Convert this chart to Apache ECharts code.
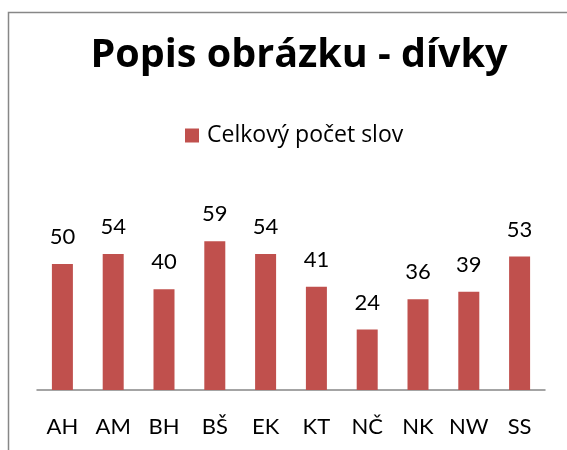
<!DOCTYPE html>
<html>
<head>
<meta charset="utf-8">
<script src="https://cdn.jsdelivr.net/npm/echarts@6/dist/echarts.min.js"></script>
<style>
  html, body { margin: 0; padding: 0; background: #fff; }
  #chart { width: 567px; height: 450px; }
</style>
</head>
<body>
<div id="chart"></div>
<script>
// data
var categories = ['AH', 'AM', 'BH', 'BŠ', 'EK', 'KT', 'NČ', 'NK', 'NW', 'SS'];
var wordCounts = [50, 54, 40, 59, 54, 41, 24, 36, 39, 53];
var seriesName = 'Celkový počet slov';
var chartTitle = 'Popis obrázku - dívky';

var font = 'Lato';
var chart = echarts.init(document.getElementById('chart'));

var option = {
	animation: false,
	backgroundColor: '#fff',
	title: {
		text: chartTitle,
		left: 294,
		textAlign: 'center',
		top: 31,
		textStyle: {
			fontFamily: 'Open Sans',
			fontSize: 39.5,
			fontWeight: 'bold',
			color: '#000'
		}
	},
	legend: {
		data: [seriesName],
		left: 180,
		top: 119,
		itemWidth: 14,
		itemHeight: 14,
		icon: 'rect',
		textStyle: {
			fontFamily: 'Open Sans',
			fontSize: 23,
			color: '#000',
			padding: [0, 0, 0, 3]
		}
	},
	// chart frame, like the excel border
	graphic: [{
		type: 'rect',
		shape: { x: 8.5, y: 12.5, width: 700, height: 600 },
		style: { fill: null, stroke: '#878787', lineWidth: 1.5 },
		silent: true
	}],
	grid: {
		left: 37,
		right: 22,
		top: 213.6,
		bottom: 60
	},
	xAxis: {
		type: 'category',
		data: categories,
		axisLine: { lineStyle: { color: '#878787', width: 1.5 } },
		axisTick: { show: false },
		axisLabel: {
			fontFamily: font,
			fontSize: 22,
			color: '#000',
			margin: 26,
			interval: 0
		}
	},
	yAxis: {
		type: 'value',
		min: 0,
		max: 70,
		show: false
	},
	series: [{
		name: seriesName,
		type: 'bar',
		data: wordCounts,
		barWidth: 21,
		itemStyle: { color: '#C0504D' },
		label: {
			show: true,
			position: 'top',
			distance: 16,
			fontFamily: font,
			fontSize: 22,
			color: '#000'
		}
	}]
};
chart.setOption(option);
</script>
</body>
</html>
